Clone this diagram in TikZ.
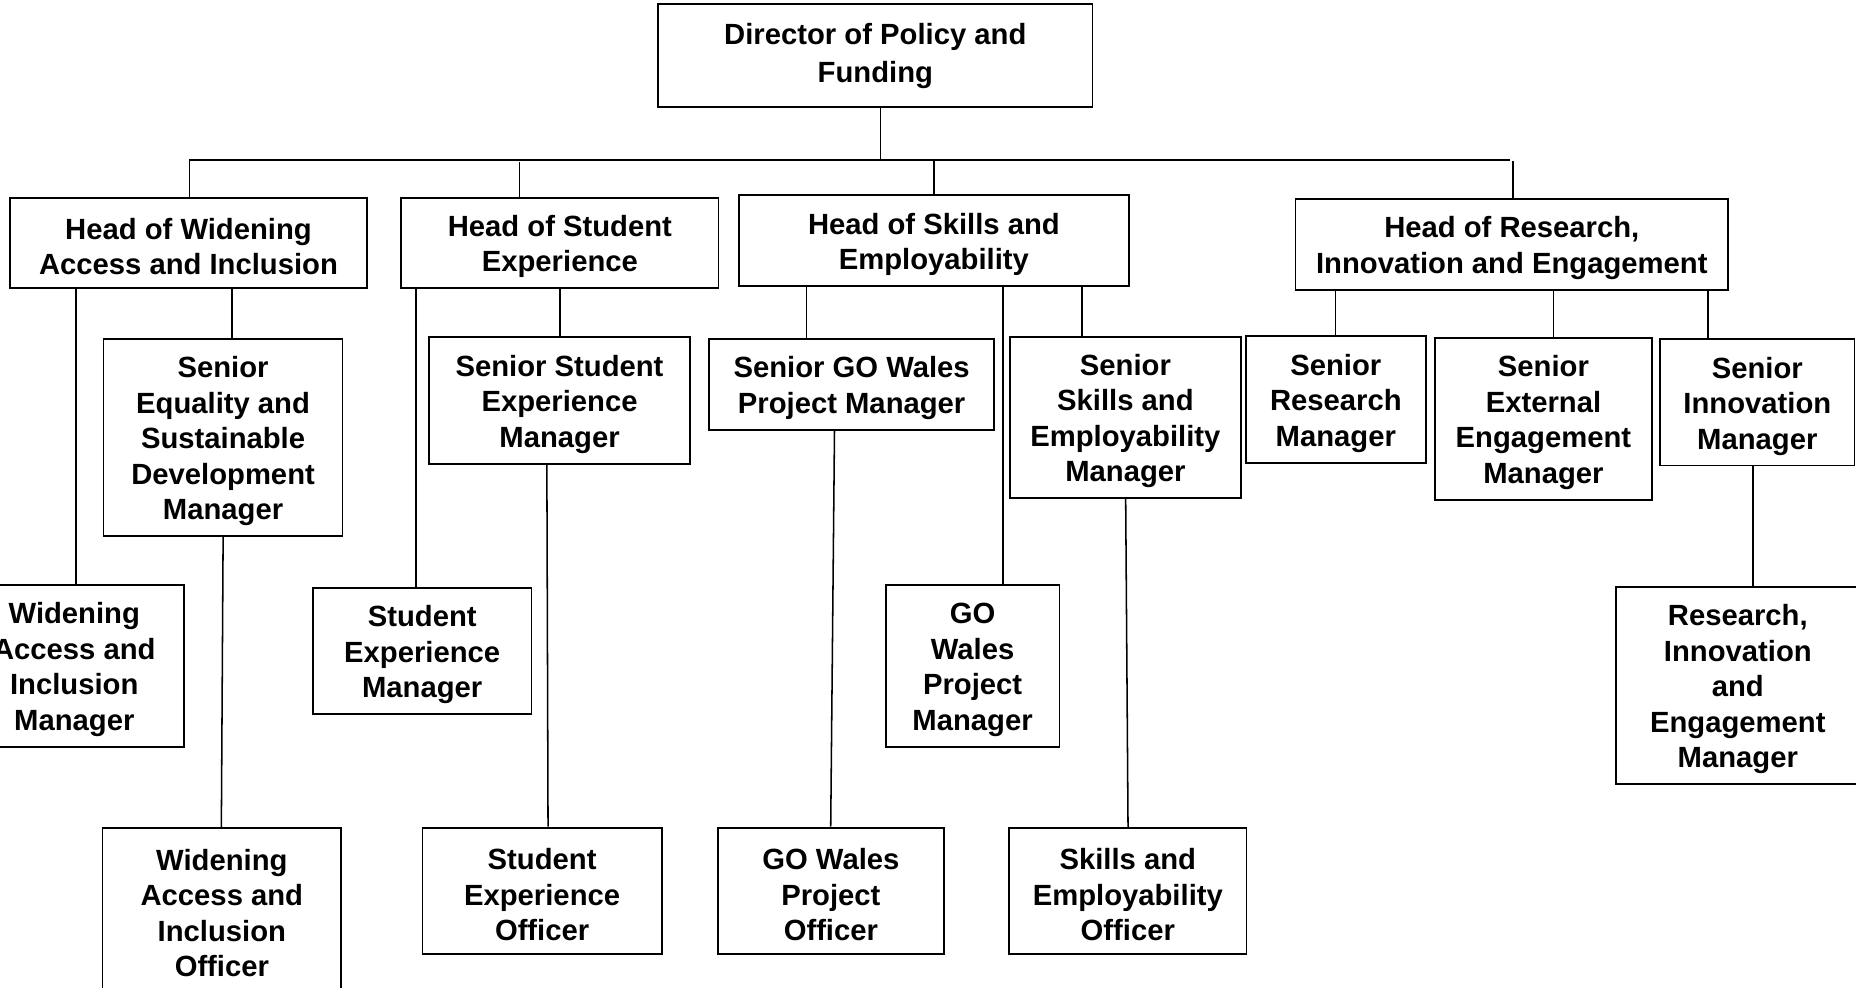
\documentclass[tikz,border=0pt]{standalone}
\usepackage{fontspec}
\setmainfont{Liberation Sans}
\newcommand\topstrut{\rule{0pt}{24pt}}
\begin{document}
\begin{tikzpicture}[x=1pt,y=-1pt,
  box/.style={draw=black,line width=1.5pt,fill=white,inner sep=0pt,align=center,
    font=\fontsize{24.7}{30}\selectfont\bfseries},
  conn/.style={draw=black,line width=1.3pt}]
\useasboundingbox (0,0) rectangle (1568,834);
\clip (0,0) rectangle (1568,834);
% boxes
\node[box,minimum width=367pt,minimum height=87.3pt,font=\fontsize{24.7}{32}\selectfont\bfseries] (dir) at (739.5,47) {Director of Policy and\\Funding};
\node[box,minimum width=301.5pt,minimum height=76.6pt] (hw) at (159.25,205.3) {\topstrut Head of Widening\\Access and Inclusion};
\node[box,minimum width=268pt,minimum height=76.6pt] (hs) at (473,205.3) {\topstrut Head of Student\\Experience};
\node[box,minimum width=330pt,minimum height=76.6pt] (hk) at (789,203.3) {\topstrut Head of Skills and\\Employability};
\node[box,minimum width=365.6pt,minimum height=77pt] (hr) at (1277.2,206.5) {\topstrut Head of Research,\\Innovation and Engagement};
\node[box,minimum width=201.9pt,minimum height=166.4pt] (seq) at (188.45,369.6) {\topstrut Senior\\Equality and\\Sustainable\\Development\\Manager};
\node[box,minimum width=185.5pt,minimum height=136.3pt] (wam) at (62.75,562.65) {\topstrut Widening\\Access and\\Inclusion\\Manager};
\node[box,minimum width=201.9pt,minimum height=137.4pt] (wao) at (187.45,768.5) {\topstrut Widening\\Access and\\Inclusion\\Officer};
\node[box,minimum width=220.6pt,minimum height=107pt] (ssem) at (472.7,338.5) {\topstrut Senior Student\\Experience\\Manager};
\node[box,minimum width=184.6pt,minimum height=107pt] (sem) at (356.7,550) {\topstrut Student\\Experience\\Manager};
\node[box,minimum width=202pt,minimum height=107pt] (seo) at (458,752.7) {\topstrut Student\\Experience\\Officer};
\node[box,minimum width=241pt,minimum height=76.3pt] (sgw) at (719.5,324.85) {\topstrut Senior GO Wales\\Project Manager};
\node[box,minimum width=146.7pt,minimum height=136.3pt] (gwm) at (821.65,562.65) {\topstrut GO\\Wales\\Project\\Manager};
\node[box,minimum width=191.1pt,minimum height=107pt] (gwo) at (701.95,752.7) {\topstrut GO Wales\\Project\\Officer};
\node[box,minimum width=195.5pt,minimum height=136.6pt] (ssk) at (950.75,352.7) {\topstrut Senior\\Skills and\\Employability\\Manager};
\node[box,minimum width=200.4pt,minimum height=106.4pt] (sko) at (952.8,753) {\topstrut Skills and\\Employability\\Officer};
\node[box,minimum width=152.3pt,minimum height=107.1pt] (srm) at (1128.55,337.45) {\topstrut Senior\\Research\\Manager};
\node[box,minimum width=182.9pt,minimum height=137.1pt] (sxm) at (1303.95,353.85) {\topstrut Senior\\External\\Engagement\\Manager};
\node[box,minimum width=164.4pt,minimum height=106.7pt] (sim) at (1484.6,340) {\topstrut Senior\\Innovation\\Manager};
\node[box,minimum width=205.7pt,minimum height=166.6pt] (rie) at (1468.15,579.3) {\topstrut Research,\\Innovation\\and\\Engagement\\Manager};
% bus
\coordinate (busL) at (160,135);
\coordinate (busR) at (1276,135);
\coordinate (busD) at (743.8,135);
\draw[conn] (busL) -- (busR);
\draw[conn] (dir.south -| busD) -- (busD);
\draw[conn] (busL) -- (hw.north -| busL);
\draw[conn] (439,137) coordinate (dS) -- (hs.north -| dS);
\draw[conn] (789,135) coordinate (dK) -- (hk.north -| dK);
\draw[conn] (1278,136) coordinate (dR) -- (hr.north -| dR);
% widening
\draw[conn] (hw.south -| 64,0) -- (wam.north -| 64,0);
\draw[conn] (hw.south -| 196,0) -- (seq.north -| 196,0);
\draw[conn] (seq.south -| 188.5,0) -- (wao.north -| 187,0);
% student
\draw[conn] (hs.south -| 351.4,0) -- (sem.north -| 351.4,0);
\draw[conn] (hs.south -| 473,0) -- (ssem.north -| 473,0);
\draw[conn] (ssem.south -| 462,0) -- (seo.north -| 463,0);
% skills
\draw[conn] (hk.south -| 681.4,0) -- (sgw.north -| 681.4,0);
\draw[conn] (hk.south -| 847.5,0) -- (gwm.north -| 847.5,0);
\draw[conn] (hk.south -| 914,0) -- (ssk.north -| 914,0);
\draw[conn] (sgw.south -| 705,0) -- (gwo.north -| 701.8,0);
\draw[conn] (ssk.south -| 951,0) -- (sko.north -| 953,0);
% research
\draw[conn] (hr.south -| 1128.4,0) -- (srm.north -| 1128.4,0);
\draw[conn] (hr.south -| 1312.3,0) -- (sxm.north -| 1312.3,0);
\draw[conn] (hr.south -| 1443,0) -- (sim.north -| 1443,0);
\draw[conn] (sim.south -| 1481,0) -- (rie.north -| 1481,0);
\end{tikzpicture}
\end{document}
